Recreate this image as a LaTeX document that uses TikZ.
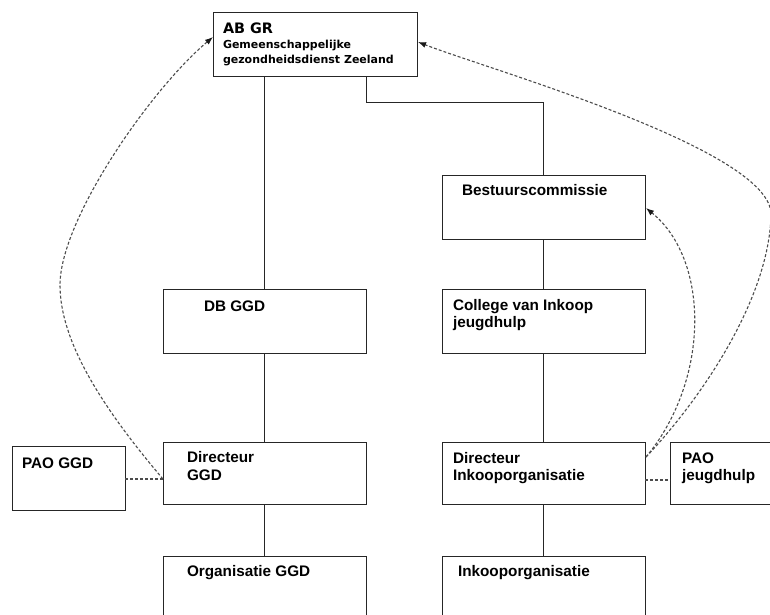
\documentclass[tikz,border=0pt]{standalone}
\usepackage{fontspec}
\setmainfont{Liberation Sans}
\newfontfamily\djfont{DejaVu Sans}
\usetikzlibrary{arrows.meta}
\newcommand\mytwo[3][17.5pt]{\vtop{\baselineskip=#1\relax\hbox{#2}\hbox{#3}}}
\begin{document}
\begin{tikzpicture}[x=1pt,y=-1pt,
  box/.style={draw=black!85,line width=1pt,rectangle,inner sep=0pt,outer sep=0pt,anchor=north west,minimum width=203pt,minimum height=64pt},
  lbl/.style={anchor=base west,inner sep=0pt,outer sep=0pt,font=\fontsize{15.3}{18}\selectfont\bfseries},
  link/.style={draw=black!85,line width=1pt},
  dlink/.style={draw=black!70,line width=1.1pt,dash pattern=on 3pt off 2pt},
  arr/.style={-{Latex[length=8pt,width=6pt,color=black!90,fill=black!90]}}]
\useasboundingbox (0,0) rectangle (770,614);
\fill[white] (0,0) rectangle (770,614);
\clip (0,0) rectangle (770,614);

% boxes
\node[box,minimum width=204pt] (abgr) at (213,12) {};
\node[box] (dbggd) at (163,289) {};
\node[box,minimum height=62pt] (dirggd) at (163,442) {};
\node[box,minimum height=80pt] (orgggd) at (163,556) {};
\node[box,minimum width=113pt] (paoggd) at (12,446) {};
\node[box] (bc) at (442,175) {};
\node[box] (cvi) at (442,289) {};
\node[box,minimum height=62pt] (dirink) at (442,442) {};
\node[box,minimum height=80pt] (inko) at (442,556) {};
\node[box,minimum width=150pt,minimum height=62pt] (paojh) at (670,442) {};

% texts
\node[lbl,font=\djfont\bfseries\fontsize{14.4}{18}\selectfont] (tabgr) at (223,33) {AB GR};
\node[lbl,font=\djfont\bfseries\fontsize{11}{15.5}\selectfont] (tabgr2) at (223,48.3) {\mytwo[15.6pt]{Gemeenschappelijke}{gezondheidsdienst Zeeland}};
\node[lbl] (tdb) at (204,311) {DB GGD};
\node[lbl] (tdirggd) at (187,462) {\mytwo[18pt]{Directeur}{GGD}};
\node[lbl] (torg) at (187,576) {Organisatie GGD};
\node[lbl] (tpao) at (22,468) {PAO GGD};
\node[lbl] (tbc) at (462,195) {Bestuurscommissie};
\node[lbl] (tcvi) at (453,310) {\mytwo{College van Inkoop}{jeugdhulp}};
\node[lbl] (tdirink) at (453,463) {\mytwo[17pt]{Directeur}{Inkooporganisatie}};
\node[lbl] (tpaojh) at (682,463) {\mytwo[17pt]{PAO}{jeugdhulp}};
\node[lbl] (tinko) at (458,576) {Inkooporganisatie};

% solid connectors
\draw[link] (dbggd.north |- abgr.south) -- (dbggd.north);
\coordinate (j1) at (366,102);
\draw[link] (j1 |- abgr.south) -- (j1) -| (bc.north);
\draw[link] (bc.south) -- (cvi.north);
\draw[link] (cvi.south) -- (dirink.north);
\draw[link] (dirink.south) -- (inko.north);
\draw[link] (dbggd.south) -- (dirggd.north);
\draw[link] (dirggd.south) -- (orgggd.north);

% dashed connectors
\coordinate (lg) at (163,479);
\draw[dlink] (paoggd.east |- lg) -- (lg);
\coordinate (abl) at (213,37);
\coordinate (lpeak) at (60,285);
\draw[dlink,arr] (lg) .. controls (100,405) and (60,340) .. (lpeak) .. controls (60,220) and (150,90) .. (abl);

\coordinate (rs) at (646,457);
\coordinate (rh) at (645,480);
\draw[dlink] (rh) -- (rh -| paojh.west);
\coordinate (bcr) at (646,208);
\draw[dlink,arr] (rs) .. controls (710,380) and (710,260) .. (bcr);
\coordinate (abr) at (418,42);
\coordinate (rpeak) at (771,215);
\draw[dlink,arr] (rs) .. controls (700,400) and (769,300) .. (rpeak) .. controls (773,150) and (490,70) .. (abr);
\end{tikzpicture}
\end{document}
